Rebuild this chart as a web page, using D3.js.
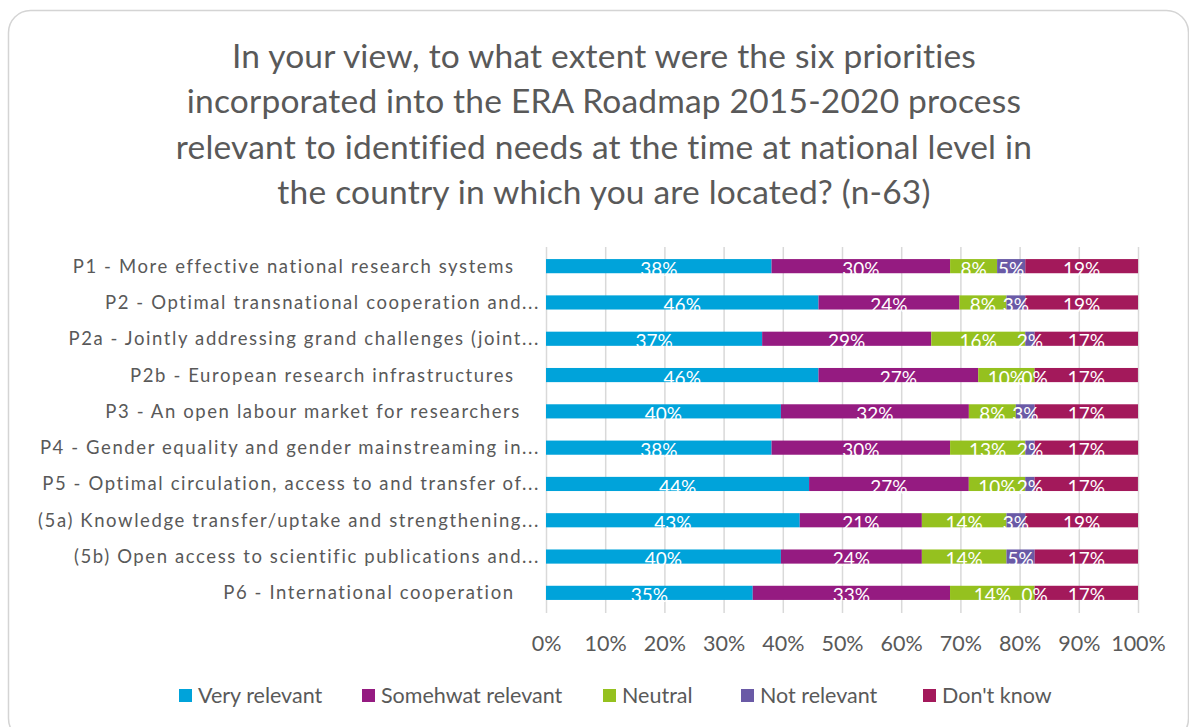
<!DOCTYPE html>
<html><head><meta charset="utf-8">
<script src="https://cdn.jsdelivr.net/npm/d3@7"></script>
<style>
body{margin:0;background:#fff;}
svg{display:block;font-family:Lato,"Open Sans",sans-serif;}
.cat{white-space:pre;}
</style></head>
<body><svg id="chart" width="1189" height="727"></svg>
<script>
const titleLines = [
  "In your view, to what extent were the six priorities",
  "incorporated into the ERA Roadmap 2015-2020 process",
  "relevant to identified needs at the time at national level in",
  "the country in which you are located? (n-63)"
];
const categories = [
  "P1 - More effective national research systems\u00a0\u00a0\u00a0\u00a0",
  "P2 - Optimal transnational cooperation and...",
  "P2a - Jointly addressing grand challenges (joint...",
  "P2b - European research infrastructures\u00a0\u00a0\u00a0\u00a0",
  "P3 - An open labour market for researchers\u00a0\u00a0\u00a0",
  "P4 - Gender equality and gender mainstreaming in...",
  "P5 - Optimal circulation, access to and transfer of...",
  "(5a) Knowledge transfer/uptake and strengthening...",
  "(5b) Open access to scientific publications and...",
  "P6 - International cooperation\u00a0\u00a0\u00a0\u00a0"
];
const seriesNames = ["Very relevant","Somehwat relevant","Neutral","Not relevant","Don't know"];
const seriesColors = ["#00A3DA","#951B81","#95C11F","#6A5AA6","#A3195B"];
const veryRelevant     = [38.10, 46.03, 36.51, 46.03, 39.68, 38.10, 44.44, 42.86, 39.68, 34.92];
const somewhatRelevant = [30.16, 23.81, 28.57, 26.98, 31.75, 30.16, 26.98, 20.63, 23.81, 33.33];
const neutral          = [ 7.94,  7.94, 15.87,  9.52,  7.94, 12.70,  9.52, 14.29, 14.29, 14.29];
const notRelevant      = [ 4.76,  3.17,  1.59,  0.00,  3.17,  1.59,  1.59,  3.17,  4.76,  0.00];
const dontKnow         = [19.05, 19.05, 17.46, 17.46, 17.46, 17.46, 17.46, 19.05, 17.46, 17.46];
const xTicks = [0,10,20,30,40,50,60,70,80,90,100];

const seriesValues = [veryRelevant, somewhatRelevant, neutral, notRelevant, dontKnow];
const rows = categories.map((c,i)=>{ const o={cat:c}; seriesNames.forEach((s,j)=>o[s]=seriesValues[j][i]); return o; });
const stack = d3.stack().keys(seriesNames)(rows);

const svg = d3.select("#chart");
// frame
svg.append("rect").attr("x",8.5).attr("y",10.5).attr("width",1180).attr("height",730)
  .attr("rx",22).attr("fill","#fff").attr("stroke","#d4d4d4").attr("stroke-width",1.5);

// title
const title = svg.append("text").attr("text-anchor","middle").attr("fill","#595959")
  .attr("font-size",33.5).attr("letter-spacing",0.2);
titleLines.forEach((t,i)=>title.append("tspan").attr("x",604).attr("y",68+i*45.3).text(t));

const x = d3.scaleLinear().domain([0,100]).range([546,1138]);
const y = d3.scaleBand().domain(categories).range([248,611]).paddingInner(0.61).paddingOuter(0.305);

// gridlines / axis
const xAxis = svg.append("g").attr("transform","translate(0,613)")
  .call(d3.axisBottom(x).tickValues(xTicks).tickFormat(d=>d+"%").tickSize(-366).tickPadding(23));
xAxis.select(".domain").remove();
xAxis.selectAll("line").attr("stroke","#d9d9d9").attr("stroke-width",1.5);
xAxis.selectAll("text").attr("fill","#595959").attr("font-size",21.5).attr("font-family","Lato,sans-serif");

// bars
const g = svg.append("g");
stack.forEach((layer,j)=>{
  g.selectAll(null).data(layer).enter().append("rect")
    .attr("x",d=>x(d[0])).attr("width",d=>x(d[1])-x(d[0]))
    .attr("y",(d,i)=>y(categories[i])).attr("height",y.bandwidth())
    .attr("fill",seriesColors[j]);
});
// labels
stack.forEach((layer,j)=>{
  g.selectAll(null).data(layer).enter().append("text")
    .attr("x",d=>(x(d[0])+x(d[1]))/2)
    .attr("y",(d,i)=>y(categories[i])+y.bandwidth()+2.5)
    .attr("text-anchor","middle").attr("fill","#fff").attr("font-size",19)
    .text(d=>Math.round(d[1]-d[0])+"%");
});

// category labels
svg.append("g").selectAll("text").data(categories).enter().append("text")
  .attr("class","cat")
  .attr("x",540).attr("y",d=>y(d)+y.bandwidth()/2).attr("dy","0.35em")
  .attr("text-anchor","end").attr("fill","#595959").attr("font-size",18.5)
  .attr("letter-spacing",1.6)
  .text(d=>d);

// legend
const legendX = [179,362,603,741,923];
const lg = svg.append("g");
seriesNames.forEach((s,j)=>{
  lg.append("rect").attr("x",legendX[j]).attr("y",689).attr("width",13).attr("height",13).attr("fill",seriesColors[j]);
  lg.append("text").attr("x",legendX[j]+19).attr("y",703)
    .attr("fill","#595959").attr("font-size",21.5).text(s);
});
</script></body></html>
